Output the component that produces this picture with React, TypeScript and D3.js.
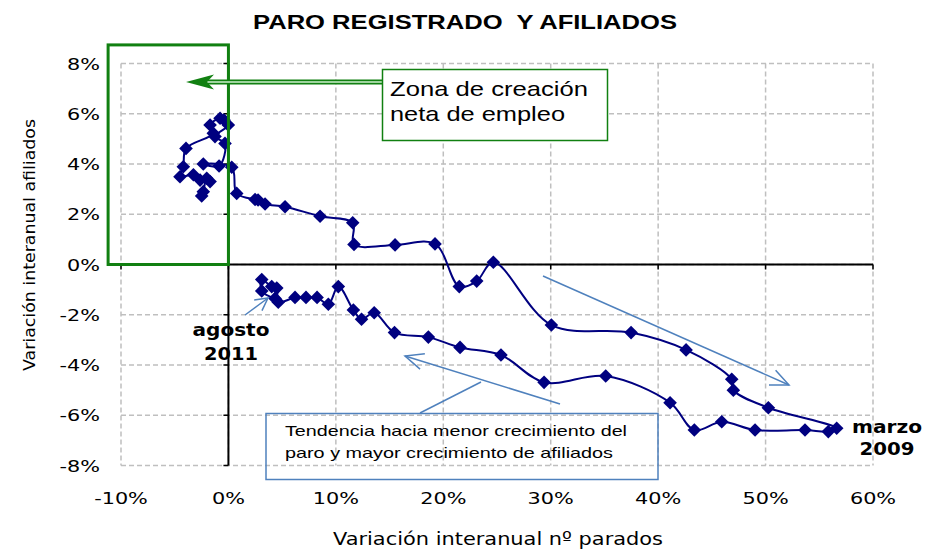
import React from 'react';
import * as d3 from 'd3';

// Variación interanual nº parados (%), in time order (2006 → marzo 2009 → agosto 2011)
const paro = [
  -2.49, -2.34, -2.02, -1.71, -2.64, -3.26, -4.51, -4.2, -3.95, -1.41, -1.71, -0.78, -0.41, -0.01,
  -1.25, -0.32, -0.87, -2.34, 0.31, 0.77, 2.48, 2.76, 3.41, 5.27, 8.53, 11.57, 11.69, 15.51, 19.23,
  21.49, 23.11, 24.66, 30.06, 37.48, 42.6, 46.85, 47.0, 50.26, 56.62,
  55.84, 53.67, 49.02, 45.92, 43.37, 41.11, 35.12, 29.38, 25.37, 21.56, 18.61, 15.46, 13.57, 12.39,
  11.63, 10.23, 9.3, 8.25, 7.22, 6.2, 4.64, 4.5, 4.03, 3.1, 3.1, 4.34,
];
// Variación interanual afiliados (%)
const afiliados = [
  2.73, 2.9, 3.43, 3.3, 3.36, 3.57, 3.49, 3.89, 4.62, 5.22, 5.55, 5.82, 5.75, 5.55,
  5.09, 4.82, 3.92, 4.0, 3.87, 2.83, 2.59, 2.57, 2.41, 2.3, 1.92, 1.66, 0.8, 0.78, 0.82,
  -0.88, -0.66, 0.09, -2.41, -2.71, -3.4, -4.57, -5.0, -5.7, -6.52,
  -6.65, -6.59, -6.59, -6.26, -6.59, -5.5, -4.44, -4.69, -3.6, -3.3, -2.89, -2.71, -1.92, -2.18,
  -1.81, -0.88, -1.58, -1.31, -1.31, -1.31, -1.5, -0.94, -0.88, -0.6, -1.05, -1.35,
];

const xTicks = [-10, 0, 10, 20, 30, 40, 50, 60];
const yTicks = [-8, -6, -4, -2, 0, 2, 4, 6, 8];

const title = 'PARO REGISTRADO  Y AFILIADOS';
const xTitle = 'Variación interanual nº parados';
const yTitle = 'Variación interanual afiliados';
const zonaLines = ['Zona de creación', 'neta de empleo'];
const tendLines = ['Tendencia hacia menor crecimiento del', 'paro y mayor crecimiento de afiliados'];
const startLabel = ['agosto', '2011'];
const endLabel = ['marzo', '2009'];

const NAVY = '#000080';
const GREEN = '#118011';
const BLUE = '#4f81bd';

function arrowHead(x1: number, y1: number, x2: number, y2: number, len = 20, ang = 25) {
  const a = Math.atan2(y1 - y2, x1 - x2);
  const r = (ang * Math.PI) / 180;
  const p1 = [x2 + len * Math.cos(a + r), y2 + len * Math.sin(a + r)];
  const p2 = [x2 + len * Math.cos(a - r), y2 + len * Math.sin(a - r)];
  return `M${p1[0]},${p1[1]}L${x2},${y2}L${p2[0]},${p2[1]}`;
}

export default function App() {
  const W = 929;
  const H = 549;
  const x = d3.scaleLinear().domain([-10, 60]).range([121, 873]);
  const y = d3.scaleLinear().domain([-8, 8]).range([465.5, 63.5]);

  const pts: [number, number][] = paro.map((p, i) => [p, afiliados[i]]);
  const line = d3
    .line<[number, number]>()
    .x((d) => x(d[0]))
    .y((d) => y(d[1]))
    .curve(d3.curveCatmullRom.alpha(0.5));

  const diamond = 'M0,-6.8L6.8,0L0,6.8L-6.8,0Z';

  const x0 = x(0);
  const y0 = y(0);

  // green zone box
  const gx1 = x(-11.2);
  const gy1 = y(8.74);

  const tickFont = 'DejaVu Sans, Verdana, sans-serif';

  return (
    <svg
      width={W}
      height={H}
      style={{ position: 'absolute', left: 0, top: 0, background: '#fff' }}
    >
      <rect x={0} y={0} width={W} height={H} fill="#fff" />
      {/* title */}
      <text
        x={465}
        y={29}
        textAnchor="middle"
        fontFamily="Liberation Sans, Arial, sans-serif"
        fontWeight="bold"
        fontSize={21}
        textLength={424}
        lengthAdjust="spacingAndGlyphs"
        style={{ whiteSpace: 'pre' }}
      >
        {title}
      </text>

      {/* gridlines */}
      {xTicks.map((t) => (
        <line
          key={'gx' + t}
          x1={x(t)}
          x2={x(t)}
          y1={y(8)}
          y2={y(-8)}
          stroke="#bfbfbf"
          strokeWidth={1.5}
          strokeDasharray="5,3"
        />
      ))}
      {yTicks.map((t) => (
        <line
          key={'gy' + t}
          x1={x(-10)}
          x2={x(60)}
          y1={y(t)}
          y2={y(t)}
          stroke="#bfbfbf"
          strokeWidth={1.5}
          strokeDasharray="5,3"
        />
      ))}

      {/* axes at zero */}
      <line x1={x(-10)} x2={x(60)} y1={y0} y2={y0} stroke="#000" strokeWidth={2} />
      <line x1={x0} x2={x0} y1={y(8)} y2={y(-8)} stroke="#000" strokeWidth={2} />
      {xTicks.map((t) => (
        <line key={'tx' + t} x1={x(t)} x2={x(t)} y1={y0} y2={y0 + 5} stroke="#000" strokeWidth={1.5} />
      ))}
      {yTicks.map((t) => (
        <line key={'ty' + t} x1={x0 - 5} x2={x0} y1={y(t)} y2={y(t)} stroke="#000" strokeWidth={1.5} />
      ))}

      {/* tick labels */}
      {xTicks.map((t) => (
        <text
          key={'lx' + t}
          transform={`translate(${x(t)},504) scale(1.3,1)`}
          textAnchor="middle"
          fontFamily={tickFont}
          fontSize={16}
          fill="#000"
        >
          {t + '%'}
        </text>
      ))}
      {yTicks.map((t) => (
        <text
          key={'ly' + t}
          transform={`translate(100,${y(t) + 6}) scale(1.3,1)`}
          textAnchor="end"
          fontFamily={tickFont}
          fontSize={16}
          fill="#000"
        >
          {t + '%'}
        </text>
      ))}

      {/* axis titles */}
      <text
        x={498}
        y={545}
        textAnchor="middle"
        fontFamily={tickFont}
        fontSize={18}
        textLength={330}
        lengthAdjust="spacingAndGlyphs"
      >
        {xTitle}
      </text>
      <text
        transform={`translate(35,245) rotate(-90)`}
        textAnchor="middle"
        fontFamily={tickFont}
        fontSize={16}
        textLength={252}
        lengthAdjust="spacingAndGlyphs"
      >
        {yTitle}
      </text>

      {/* series */}
      <path d={line(pts) || ''} fill="none" stroke={NAVY} strokeWidth={2} />
      {pts.map((d, i) => (
        <path key={'m' + i} d={diamond} transform={`translate(${x(d[0])},${y(d[1])})`} fill={NAVY} />
      ))}

      {/* green zone box */}
      <rect
        x={gx1}
        y={gy1}
        width={x0 - gx1}
        height={y0 - gy1}
        fill="none"
        stroke={GREEN}
        strokeWidth={3}
      />
      {/* green arrow */}
      <line x1={383} x2={200} y1={82} y2={82} stroke={GREEN} strokeWidth={5} />
      <line x1={383} x2={202} y1={82} y2={82} stroke="#9fd49f" strokeWidth={1.8} />
      <path d="M186,82L214,74.5L207,82L214,89.5Z" fill={GREEN} />
      <rect x={382.5} y={69.5} width={225} height={71} fill="#fff" stroke={GREEN} strokeWidth={1.5} />
      {zonaLines.map((s, i) => (
        <text
          key={'z' + i}
          x={390}
          y={96 + i * 24.5}
          fontFamily="Liberation Sans, Arial, sans-serif"
          fontSize={21}
          textLength={i === 0 ? 198 : 175}
          lengthAdjust="spacingAndGlyphs"
        >
          {s}
        </text>
      ))}

      {/* blue arrows */}
      <line x1={543} y1={276} x2={789} y2={385} stroke={BLUE} strokeWidth={1.5} />
      <path d={arrowHead(543, 276, 789, 385, 20, 24)} fill="none" stroke={BLUE} strokeWidth={1.5} />
      <line x1={560} y1={404} x2={405} y2={356} stroke={BLUE} strokeWidth={1.5} />
      <path d={arrowHead(560, 404, 405, 356, 20, 24)} fill="none" stroke={BLUE} strokeWidth={1.5} />
      <line x1={420} y1={413} x2={481} y2={382} stroke={BLUE} strokeWidth={1.5} />
      <line x1={245} y1={315} x2={268} y2={298} stroke={BLUE} strokeWidth={1.5} />
      <path d={arrowHead(245, 315, 268, 298, 14, 28)} fill="none" stroke={BLUE} strokeWidth={1.5} />

      {/* tendencia box */}
      <rect x={266} y={413.5} width={392} height={66} fill="none" stroke={BLUE} strokeWidth={1.5} />
      {tendLines.map((s, i) => (
        <text
          key={'t' + i}
          x={285}
          y={436 + i * 21.5}
          fontFamily="Liberation Sans, Arial, sans-serif"
          fontSize={15}
          textLength={i === 0 ? 342 : 328}
          lengthAdjust="spacingAndGlyphs"
        >
          {s}
        </text>
      ))}

      {/* point labels */}
      {startLabel.map((s, i) => (
        <text
          key={'a' + i}
          x={231}
          y={336 + i * 24}
          textAnchor="middle"
          fontFamily={tickFont}
          fontWeight="bold"
          fontSize={17}
          textLength={i === 0 ? 77 : 54}
          lengthAdjust="spacingAndGlyphs"
        >
          {s}
        </text>
      ))}
      {endLabel.map((s, i) => (
        <text
          key={'e' + i}
          x={887}
          y={433 + i * 22}
          textAnchor="middle"
          fontFamily={tickFont}
          fontWeight="bold"
          fontSize={17}
          textLength={i === 0 ? 70 : 55}
          lengthAdjust="spacingAndGlyphs"
        >
          {s}
        </text>
      ))}
    </svg>
  );
}
